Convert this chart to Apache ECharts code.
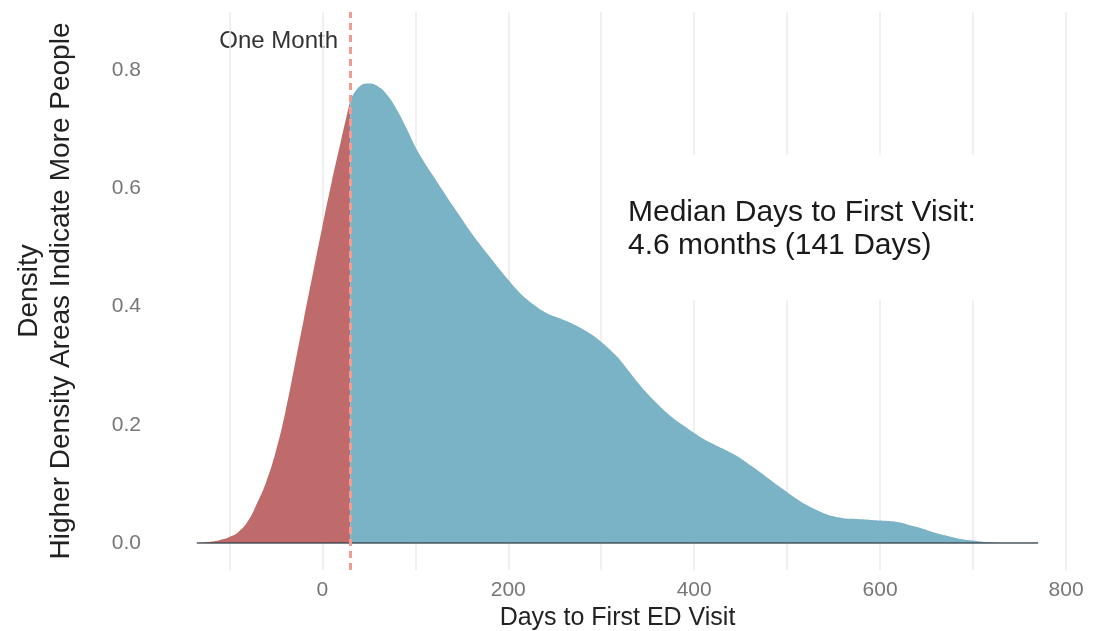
<!DOCTYPE html>
<html>
<head>
<meta charset="utf-8">
<script src="https://cdn.jsdelivr.net/npm/echarts@6/dist/echarts.min.js"></script>
<style>
  html, body { margin: 0; padding: 0; background: #fff; }
  #chart { width: 1099px; height: 631px; }
</style>
</head>
<body>
<div id="chart"></div>
<script>
// density curve (days -> density)
const days = [-135, -130, -120, -110, -100, -90, -80, -70, -60, -50, -40, -30, -20, -10, 0, 10, 20, 30,
  40, 50, 60, 70, 80, 90, 100, 110, 120, 130, 140, 150, 160, 170, 180, 190, 200,
  210, 220, 230, 240, 250, 260, 270, 280, 290, 300, 310, 320, 330, 340, 350, 360,
  370, 380, 390, 400, 410, 420, 430, 440, 450, 460, 470, 480, 490, 500, 510, 520,
  530, 540, 550, 560, 570, 580, 590, 600, 610, 620, 630, 640, 650, 660, 670, 680,
  690, 700, 710, 720, 735, 750, 770]
const density = [0, 0.0005, 0.002, 0.005, 0.01, 0.019, 0.037, 0.068, 0.105, 0.155, 0.22, 0.298, 0.378, 0.457, 0.535, 0.61, 0.68, 0.748,
  0.772, 0.777, 0.772, 0.757, 0.733, 0.703, 0.67, 0.643, 0.619, 0.595, 0.571, 0.548, 0.525, 0.504, 0.484, 0.464, 0.445,
  0.427, 0.412, 0.40, 0.39, 0.383, 0.377, 0.37, 0.362, 0.352, 0.34, 0.326, 0.31, 0.29, 0.27, 0.252, 0.236,
  0.221, 0.208, 0.197, 0.186, 0.176, 0.168, 0.16, 0.152, 0.143, 0.132, 0.121, 0.109, 0.097, 0.086, 0.075, 0.065,
  0.057, 0.05, 0.045, 0.042, 0.041, 0.04, 0.039, 0.038, 0.037, 0.035, 0.031, 0.027, 0.022, 0.017, 0.013, 0.009,
  0.006, 0.004, 0.002, 0.001, 0.0005, 0.0002, 0]
const xTicks = [0, 200, 400, 600, 800]
const xGrid = [-100, 0, 100, 200, 300, 400, 500, 600, 700, 800]
const yTicks = [0, 0.2, 0.4, 0.6, 0.8]
const oneMonth = 30
const medianText = 'Median Days to First Visit:\n4.6 months (141 Days)'

const chart = echarts.init(document.getElementById('chart'))

const before = []
const after = []
for (let i = 0; i < days.length; i++) {
  if (days[i] <= oneMonth) before.push([days[i], density[i]])
  if (days[i] >= oneMonth) after.push([days[i], density[i]])
}

const areaSeries = (name, data, color) => ({
  name: name,
  type: 'line',
  data: data,
  smooth: 0.5,
  showSymbol: false,
  silent: true,
  lineStyle: { width: 0 },
  areaStyle: { color: color, opacity: 1 },
  z: 3
})

const font = 'Liberation Sans'

chart.setOption({
  animation: false,
  grid: { left: 155, right: 19, top: 12, bottom: 61, outerBoundsMode: 'none', containLabel: false },
  xAxis: {
    type: 'value',
    min: -180,
    max: 815,
    name: 'Days to First ED Visit',
    nameLocation: 'middle',
    nameGap: 34,
    nameTextStyle: { fontFamily: font, fontSize: 25, color: '#222' },
    axisLine: { show: false, onZero: false },
    axisTick: { show: false, customValues: xGrid },
    axisLabel: {
      customValues: xTicks,
      margin: 10,
      fontFamily: font,
      fontSize: 21,
      color: '#777'
    },
    splitLine: { show: true, lineStyle: { color: '#ebebeb', width: 1.5 } }
  },
  yAxis: {
    type: 'value',
    min: -0.0457,
    max: 0.898,
    name: 'Density\nHigher Density Areas Indicate More People',
    nameLocation: 'middle',
    nameGap: 78,
    nameRotate: 90,
    nameTextStyle: { fontFamily: font, fontSize: 28, color: '#222', lineHeight: 32 },
    axisLine: { show: false },
    axisTick: { show: false },
    axisLabel: {
      customValues: yTicks,
      margin: 14,
      fontFamily: font,
      fontSize: 21,
      color: '#777',
      formatter: v => v.toFixed(1)
    },
    splitLine: { show: false }
  },
  series: [
    areaSeries('Within one month', before, '#c06b6b'),
    areaSeries('After one month', after, '#7bb3c6'),
    {
      name: 'baseline',
      type: 'line',
      data: [[days[0], 0], [days[days.length - 1], 0]],
      showSymbol: false,
      silent: true,
      lineStyle: { color: '#2f3e44', width: 1.5, opacity: 0.85 },
      z: 4,
      markLine: {
        silent: true,
        symbol: 'none',
        label: { show: false },
        lineStyle: { color: '#f39a92', type: [7, 5], width: 3 },
        data: [{ xAxis: oneMonth }],
        z: 5
      }
    }
  ],
  graphic: [
    {
      type: 'text',
      right: 1099 - 338,
      top: 29,
      style: { text: 'One Month', fontFamily: font, fontSize: 24, fill: '#333' }
    },
    {
      type: 'text',
      left: 605,
      top: 155,
      z: 10,
      style: {
        text: medianText,
        fontFamily: font,
        fontSize: 30,
        lineHeight: 33,
        fill: '#1a1a1a',
        backgroundColor: '#fff',
        padding: [41, 24, 38, 23]
      }
    }
  ]
})
</script>
</body>
</html>
